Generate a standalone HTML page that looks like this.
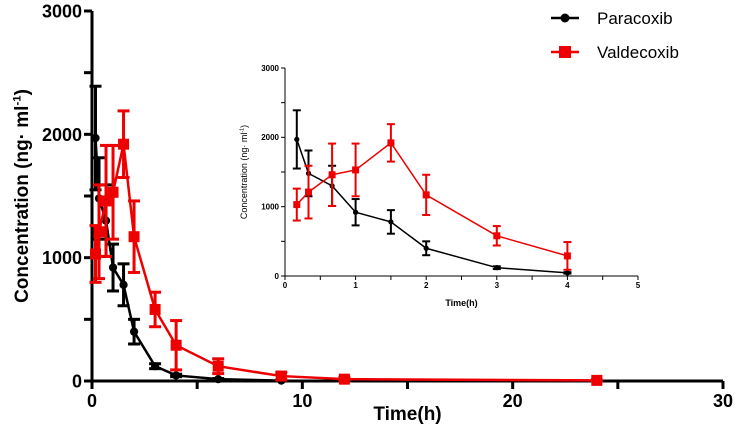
<!DOCTYPE html>
<html><head><meta charset="utf-8"><style>
body{margin:0;background:#fff}svg{display:block}
text{font-family:"Liberation Sans",Arial,sans-serif}
</style></head><body>
<svg id="c" width="735" height="444"></svg>
<script>
const times=[0.167,0.333,0.667,1,1.5,2,3,4,6,9];
const paraVals=[1970,1480,1300,920,780,400,120,45,15,3];
const paraErr=[420,330,290,190,170,100,20,10,5,2];
const valdTimes=[0.167,0.333,0.667,1,1.5,2,3,4,6,9,12,24];
const valdVals=[1030,1210,1460,1530,1920,1170,580,290,120,40,15,5];
const valdErr=[230,380,450,380,270,290,140,200,60,30,15,5];
const mainXTicks=[0,10,20,30];
const yTicks=[0,1000,2000,3000];
const insetXTicks=[0,1,2,3,4,5];
const NS="http://www.w3.org/2000/svg";
const svg=document.getElementById('c');
function el(t,a,p){const e=document.createElementNS(NS,t);for(const k in a)e.setAttribute(k,a[k]);(p||svg).appendChild(e);return e;}
function drawPlot(cfg){
 const g=el('g',{});
 
 
 const X=v=>cfg.x0+(v-cfg.xmin)/(cfg.xmax-cfg.xmin)*(cfg.x1-cfg.x0);
 const Y=v=>cfg.y0-v/3000*(cfg.y0-cfg.y1);
 const aw=cfg.axisW;
 el('line',{x1:cfg.x0,y1:cfg.y0,x2:cfg.x1,y2:cfg.y0,stroke:'#000','stroke-width':aw},g);
 el('line',{x1:cfg.x0,y1:cfg.y0,x2:cfg.x0,y2:cfg.y1,stroke:'#000','stroke-width':aw},g);
 for(let v=0;v<=3000;v+=500){el('line',{x1:cfg.x0-cfg.tick,y1:Y(v),x2:cfg.x0,y2:Y(v),stroke:'#000','stroke-width':aw},g);}
 yTicks.forEach(v=>{const t=el('text',{x:cfg.x0-cfg.tick-2,y:Y(v)+cfg.fs*0.36,'font-size':cfg.fs,'font-weight':'bold','text-anchor':'end'},g);t.textContent=v;});
 for(let v=cfg.xmin;v<=cfg.xmax+1e-9;v+=cfg.minor){el('line',{x1:X(v),y1:cfg.y0,x2:X(v),y2:cfg.y0+cfg.tick,stroke:'#000','stroke-width':aw},g);}
 cfg.xt.forEach(v=>{const t=el('text',{x:X(v),y:cfg.y0+cfg.tick+cfg.fs,'font-size':cfg.fs,'font-weight':'bold','text-anchor':'middle'},g);t.textContent=v;});
 const xl=el('text',{x:(cfg.x0+cfg.x1)/2,y:cfg.xly,'font-size':cfg.lfs,'font-weight':'bold','text-anchor':'middle'},g);xl.textContent='Time(h)';
 
 const yl=el('text',{x:0,y:0,'font-size':cfg.lfs,'font-weight':cfg.ybold,'text-anchor':'middle',transform:`translate(${cfg.ylx},${(cfg.y0+cfg.y1)/2}) rotate(-90)`},g);
 yl.innerHTML='Concentration (ng· ml<tspan dy="-'+cfg.lfs*0.4+'" font-size="'+cfg.lfs*0.6+'">-1</tspan><tspan dy="'+cfg.lfs*0.4+'">)</tspan>';
 
 function series(ts,vals,errs,col,shape,nm){
  const sg=el('g',{},g);
  
  const n=ts.filter(t=>t<=cfg.xmax).length;
  let pts=[];for(let i=0;i<n;i++)pts.push(X(ts[i])+','+Y(vals[i]));
  el('polyline',{points:pts.join(' '),fill:'none',stroke:col,'stroke-width':cfg.lw},sg);
  for(let i=0;i<n;i++){const x=X(ts[i]),yt=Y(vals[i]+errs[i]),yb=Y(Math.max(0,vals[i]-errs[i]));
   el('line',{x1:x,y1:yt,x2:x,y2:yb,stroke:col,'stroke-width':cfg.ew},sg);
   el('line',{x1:x-cfg.cap,y1:yt,x2:x+cfg.cap,y2:yt,stroke:col,'stroke-width':cfg.ew},sg);
   el('line',{x1:x-cfg.cap,y1:yb,x2:x+cfg.cap,y2:yb,stroke:col,'stroke-width':cfg.ew},sg);
   const m=cfg.ms;
   if(shape==='c')el('circle',{cx:x,cy:Y(vals[i]),r:m*0.75,fill:col},sg);
   else el('rect',{x:x-m,y:Y(vals[i])-m,width:2*m,height:2*m,fill:col},sg);
  }
 }
 series(times,paraVals,paraErr,'#000','c','paracoxib-series');
 series(valdTimes,valdVals,valdErr,'#e00','s','valdecoxib-series');
}
drawPlot({name:'main-plot',x0:92,x1:723,xmin:0,xmax:30,y0:381,y1:11,minor:5,xt:mainXTicks,tick:8,fs:18,lfs:19,xly:420,ylx:28,ybold:'bold',axisW:3,lw:2.5,ew:3,cap:6,ms:5.5});
drawPlot({name:'inset-plot',x0:285,x1:638,xmin:0,xmax:5,y0:276,y1:68,minor:0.5,xt:insetXTicks,tick:4,fs:8,lfs:9,xly:306,ylx:247,ybold:'normal',axisW:1,lw:1.5,ew:2,cap:4,ms:3.5});
const lg=el('g',{});

[['Paracoxib','#000','c',18],['Valdecoxib','#e00','s',52]].forEach(([n,c,s,y])=>{
 const e=el('g',{},lg);
 
 el('line',{x1:551,y1:y,x2:579,y2:y,stroke:c,'stroke-width':2.5},e);
 if(s==='c')el('circle',{cx:565,cy:y,r:4.5,fill:c},e);else el('rect',{x:559,y:y-6,width:12,height:12,fill:c},e);
 const t=el('text',{x:597,y:y+6,'font-size':17},e);t.textContent=n;
});
</script>
</body></html>
